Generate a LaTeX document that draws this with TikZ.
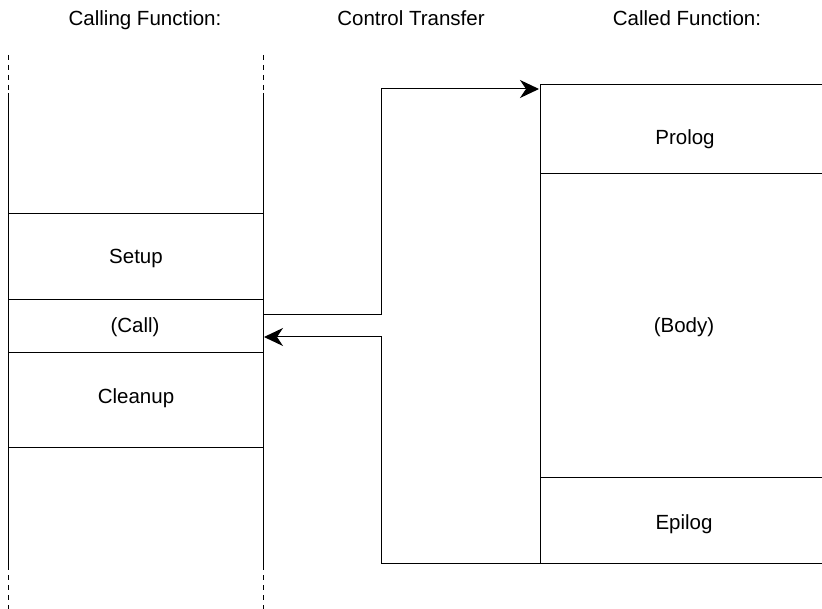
\documentclass[tikz,border=0pt]{standalone}
\usepackage{fontspec}
\setmainfont{Liberation Sans}
\usetikzlibrary{arrows.meta}
\begin{document}
\begin{tikzpicture}[x=1pt,y=-1pt,
  lbl/.style={anchor=base,inner sep=0pt,font=\fontsize{20.5}{24}\selectfont},
  ln/.style={line width=1pt,black},
  dsh/.style={line width=1pt,black,dash pattern=on 5pt off 5pt},
  conn/.style={line width=1pt,black,-{Stealth[length=19pt,width=18pt,inset=6pt]}}]
\useasboundingbox (0,0) rectangle (822,609);
% titles
\node[lbl] (t1) at (145,26) {Calling Function:};
\node[lbl] (t2) at (411,26) {Control Transfer};
\node[lbl] (t3) at (687,26) {Called Function:};
% left column
\foreach \x in {8,263}{
  \draw[dsh] (\x,55) -- (\x,93);
  \draw[ln] (\x,93) -- (\x,570);
  \draw[dsh] (\x,575) -- (\x,609);
}
\foreach \y in {214,300,353,447}{\draw[ln] (8,\y) -- (263,\y);}
\node[lbl] (setup) at (136,264) {Setup};
\node[lbl] (call) at (135,333) {(Call)};
\node[lbl] (cleanup) at (136,403) {Cleanup};
% right column
\draw[ln] (830,85) -- (540,85) -- (540,563) -- (830,563);
\draw[ln] (540,174) -- (830,174);
\draw[ln] (540,477) -- (830,477);
\node[lbl] (prolog) at (685,145) {Prolog};
\node[lbl] (body) at (684,333) {(Body)};
\node[lbl] (epilog) at (684,529) {Epilog};
% connectors
\coordinate (xmid) at (381,0);
\coordinate (callout) at (263,315);
\coordinate (prologin) at (539,89);
\coordinate (epilogout) at (540,563);
\coordinate (callin) at (264,337);
\draw[conn] (callout) -- (callout -| xmid) |- (prologin);
\draw[conn] (epilogout) -- (epilogout -| xmid) |- (callin);
\end{tikzpicture}
\end{document}
